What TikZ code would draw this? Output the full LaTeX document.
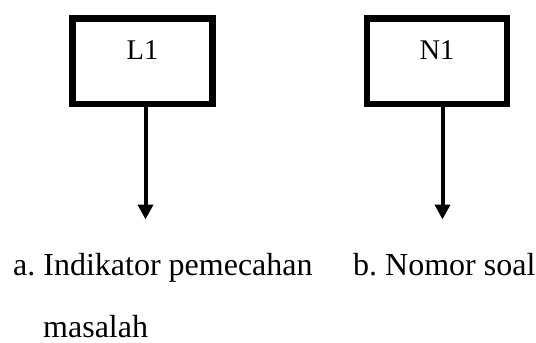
\documentclass[tikz,border=0pt]{standalone}
\usepackage{fontspec}
\setmainfont{Liberation Serif}
\usetikzlibrary{arrows.meta}
\frenchspacing

\tikzset{
  varbox/.style={draw=black, line width=6.5pt, rectangle, inner sep=0pt,
    minimum width=140.4pt, text height=41pt, text depth=44.7pt,
    font=\fontsize{28.5}{34}\selectfont},
  downarrow/.style={draw=black, line width=4pt,
    -{Triangle[length=15pt, width=15pt]}},
  caption/.style={anchor=base west, inner sep=0pt,
    font=\fontsize{32}{38}\selectfont}
}

\begin{document}
\begin{tikzpicture}[x=1pt, y=-1pt]
  \useasboundingbox (0,0) rectangle (536,343);

  % variable boxes
  \node[varbox] (L1) at (142.5,15) [anchor=north] {L1};
  \node[varbox] (N1) at (437,15) [anchor=north] {N1};

  % arrow ends
  \coordinate (aL) at (145.5,219.5);
  \coordinate (aN) at (442.5,219.5);

  \draw[downarrow] (L1.south -| aL) -- (aL);
  \draw[downarrow] (N1.south -| aN) -- (aN);

  % captions
  \node[caption] (capA) at (13,275) {a. Indikator pemecahan};
  \node[caption] (capA2) at (43,337) {masalah};
  \node[caption] (capB) at (353,275) {b. Nomor soal};
\end{tikzpicture}
\end{document}
